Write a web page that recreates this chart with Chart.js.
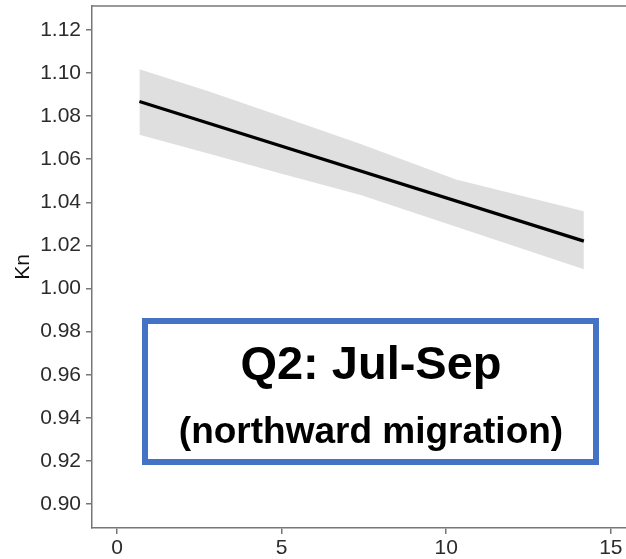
<!DOCTYPE html>
<html>
<head>
<meta charset="utf-8">
<script src="https://cdn.jsdelivr.net/npm/chart.js@4/dist/chart.umd.min.js"></script>
<style>
  html, body { margin: 0; padding: 0; background: #ffffff; }
  #wrap { position: relative; width: 626px; height: 559px; }
  #box {
    position: absolute; left: 142px; top: 318px; width: 457px; height: 147px;
    box-sizing: border-box; border: 6px solid #4472C4; background: #ffffff;
  }
  .lbl {
    position: absolute; left: 58px; width: 626px; text-align: center; color: #000;
    font-family: "Liberation Sans", Arial, sans-serif; font-weight: bold; line-height: 1; white-space: nowrap;
  }
</style>
</head>
<body>
<div id="wrap">
  <canvas id="c" width="626" height="559"></canvas>
  <div id="box"></div>
  <div class="lbl" id="t1" style="font-size:47px; top:339px;">Q2: Jul-Sep</div>
  <div class="lbl" id="t2" style="font-size:37px; top:412px;">(northward migration)</div>
</div>
<script>
// Data
const bandX = [0.68, 2.8, 5, 7.4, 10.3, 14.18];
const bandUpper = [1.1018, 1.0914, 1.0798, 1.0671, 1.0506, 1.0359];
const bandLower = [1.0714, 1.0626, 1.0533, 1.0434, 1.0287, 1.0089];
const fitX = [0.68, 14.18];
const fitY = [1.0868, 1.0220];
const xTicks = [0, 5, 10, 15];
const yTicks = [0.90, 0.92, 0.94, 0.96, 0.98, 1.00, 1.02, 1.04, 1.06, 1.08, 1.10, 1.12];
const yTitle = 'Kn';

const pts = (xs, ys) => xs.map((x, i) => ({ x: x, y: ys[i] }));

const topBorder = {
  id: 'topBorder',
  afterDraw(chart) {
    const { ctx, chartArea } = chart;
    ctx.save();
    ctx.strokeStyle = '#777777';
    ctx.lineWidth = 1.5;
    ctx.beginPath();
    ctx.moveTo(chartArea.left, chartArea.top);
    ctx.lineTo(chartArea.right, chartArea.top);
    ctx.stroke();
    ctx.restore();
  }
};

new Chart(document.getElementById('c'), {
  type: 'line',
  data: {
    datasets: [
      { label: 'fit', data: pts(fitX, fitY), borderColor: '#000000', borderWidth: 3.2, pointRadius: 0, fill: false, tension: 0 },
      { label: 'upper', data: pts(bandX, bandUpper), borderWidth: 0, borderColor: 'rgba(0,0,0,0)', backgroundColor: '#dfdfdf', pointRadius: 0, fill: '+1', tension: 0 },
      { label: 'lower', data: pts(bandX, bandLower), borderWidth: 0, borderColor: 'rgba(0,0,0,0)', pointRadius: 0, fill: false, tension: 0 }
    ]
  },
  options: {
    responsive: false,
    animation: false,
    devicePixelRatio: 1,
    layout: { padding: { top: 6, right: 0, left: 0, bottom: 0 } },
    plugins: { legend: { display: false }, tooltip: { enabled: false } },
    scales: {
      x: {
        type: 'linear', min: -0.76, max: 15.46,
        afterBuildTicks: s => { s.ticks = xTicks.map(v => ({ value: v })); },
        afterFit: s => { s.height = 31; s.paddingLeft = 0; s.paddingRight = 0; },
        grid: { display: true, drawOnChartArea: false, drawTicks: true, tickLength: 6, color: '#777777', lineWidth: 1.5 },
        border: { display: true, color: '#777777', width: 1.5 },
        ticks: { padding: 2, color: '#2b2b2b', font: { family: 'Liberation Sans', size: 21 }, maxRotation: 0 }
      },
      y: {
        type: 'linear', min: 0.8889, max: 1.1311,
        afterBuildTicks: s => { s.ticks = yTicks.map(v => ({ value: v })); },
        afterFit: s => { s.width = 92; s.paddingTop = 0; s.paddingBottom = 0; },
        grid: { display: true, drawOnChartArea: false, drawTicks: true, tickLength: 6, color: '#777777', lineWidth: 1.5 },
        border: { display: true, color: '#777777', width: 1.5 },
        ticks: { padding: 5, color: '#2b2b2b', font: { family: 'Liberation Sans', size: 21 }, callback: v => Number(v).toFixed(2) },
        title: { display: true, text: yTitle, color: '#111111', font: { family: 'Liberation Sans', size: 21 }, padding: { top: 11, bottom: 0 } }
      }
    }
  },
  plugins: [topBorder]
});
</script>
</body>
</html>
